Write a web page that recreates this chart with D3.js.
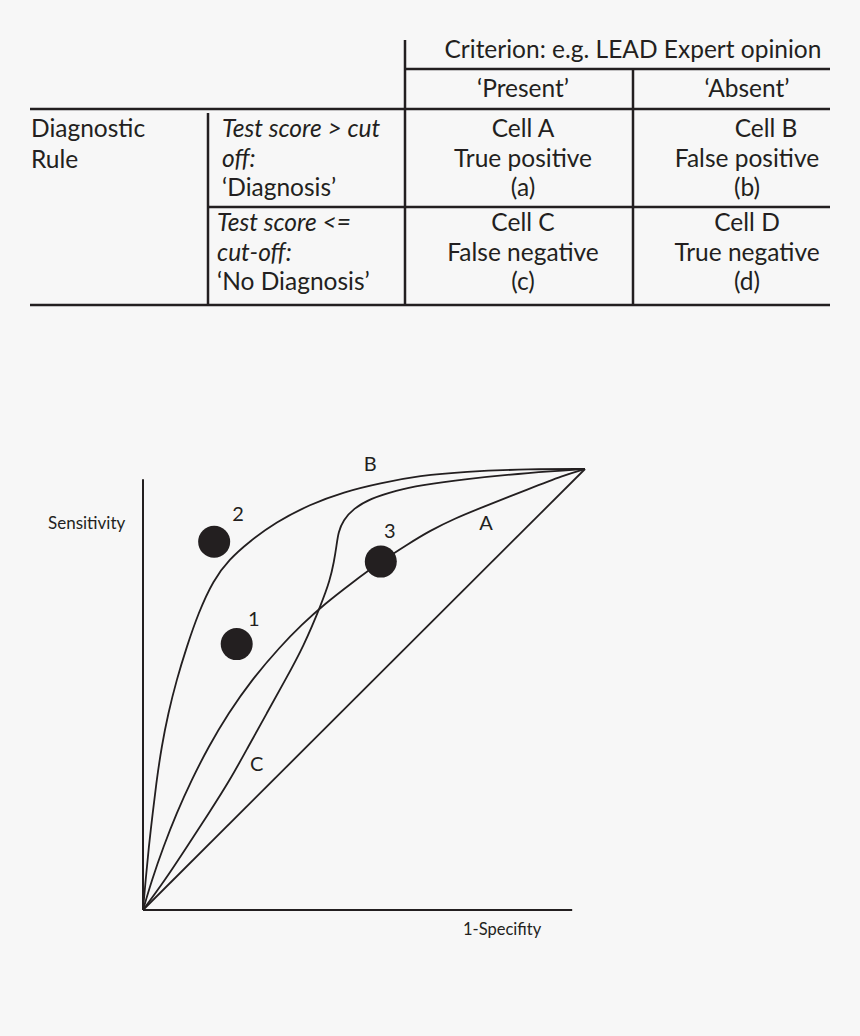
<!DOCTYPE html>
<html>
<head>
<meta charset="utf-8">
<script src="https://cdn.jsdelivr.net/npm/d3@7"></script>
<style>
  body { margin: 0; background: #f7f7f7; }
  svg { display: block; font-family: Lato, "Open Sans", sans-serif; }
</style>
</head>
<body>
<script>
// --- table content ---
const criterionTitle = "Criterion: e.g. LEAD Expert opinion";
const criterionCols = ["‘Present’", "‘Absent’"];
const ruleLabel = ["Diagnostic", "Rule"];
const ruleRows = [
  ["Test score > cut", "off:", "‘Diagnosis’"],
  ["Test score <=", "cut-off:", "‘No Diagnosis’"]
];
const cells = [
  [["Cell A", "True positive", "(a)"], ["Cell B", "False positive", "(b)"]],
  [["Cell C", "False negative", "(c)"], ["Cell D", "True negative", "(d)"]]
];

// --- ROC curves (x = 1-specificity, y = sensitivity) ---
const curveA = [[0,0],[0.020,0.068],[0.046,0.143],[0.076,0.220],[0.110,0.295],[0.148,0.370],
  [0.193,0.446],[0.246,0.522],[0.310,0.597],[0.360,0.648],[0.410,0.693],[0.470,0.740],
  [0.538,0.790],[0.600,0.830],[0.649,0.860],[0.706,0.888],[0.762,0.911],[0.876,0.956],
  [0.950,0.985],[1,1]];
const curveB = [[0,0],[0.006,0.068],[0.013,0.143],[0.022,0.220],[0.031,0.295],[0.042,0.370],
  [0.057,0.446],[0.076,0.522],[0.099,0.597],[0.125,0.673],[0.159,0.748],[0.195,0.795],
  [0.240,0.835],[0.300,0.879],[0.378,0.920],[0.454,0.948],[0.536,0.968],[0.627,0.985],
  [0.725,0.994],[0.876,1.0],[1,1]];
const curveC = [[0,0],[0.050,0.068],[0.099,0.143],[0.148,0.218],[0.197,0.295],[0.238,0.370],
  [0.280,0.446],[0.322,0.522],[0.363,0.597],[0.404,0.695],[0.423,0.748],[0.432,0.789],
  [0.438,0.827],[0.442,0.857],[0.453,0.884],[0.476,0.910],[0.514,0.933],[0.574,0.952],
  [0.627,0.963],[0.725,0.977],[0.876,0.992],[1,1]];
const chance = [[0,0],[1,1]];
const curveLabels = [
  {name: "A", x: 0.776, y: 0.862},
  {name: "B", x: 0.514, y: 0.995},
  {name: "C", x: 0.257, y: 0.316}
];
const points = [
  {name: "1", x: 0.212, y: 0.603},
  {name: "2", x: 0.161, y: 0.835},
  {name: "3", x: 0.538, y: 0.790}
];
const xTitle = "1-Specifity";
const yTitle = "Sensitivity";

const width = 860, height = 1036;
const ink = "#231f20";

const svg = d3.select("body").append("svg")
  .attr("width", width)
  .attr("height", height);

svg.append("rect").attr("width", width).attr("height", height).attr("fill", "#f7f7f7");

// ---------- table ----------
const colX = [30, 208, 405, 633, 830];
const rowY = [40, 69, 109, 207, 305];
const table = svg.append("g").attr("fill", ink).style("font-size", "24.5px");

const rules = [
  [colX[2], rowY[0], colX[2], rowY[4]],
  [colX[2], rowY[1], colX[4], rowY[1]],
  [colX[0], rowY[2], colX[4], rowY[2]],
  [colX[3], rowY[1], colX[3], rowY[4]],
  [colX[1], rowY[2] + 4, colX[1], rowY[4]],
  [colX[1], rowY[3], colX[4], rowY[3]],
  [colX[0], rowY[4], colX[4], rowY[4]]
];
table.selectAll("line").data(rules).join("line")
  .attr("x1", d => d[0]).attr("y1", d => d[1])
  .attr("x2", d => d[2]).attr("y2", d => d[3])
  .attr("stroke", ink).attr("stroke-width", 2.5);

table.append("text").attr("x", 633).attr("y", 58)
  .attr("text-anchor", "middle").text(criterionTitle);

const colCenters = [523, 747];
table.selectAll(".colhead").data(criterionCols).join("text")
  .attr("class", "colhead")
  .attr("x", (d, i) => colCenters[i]).attr("y", 97)
  .attr("text-anchor", "middle").text(d => d);

table.selectAll(".rule").data(ruleLabel).join("text")
  .attr("class", "rule")
  .attr("x", 31).attr("y", (d, i) => 137 + i * 31).text(d => d);

const rowBase = [137, 231];
const lineGap = 29.5;
ruleRows.forEach((lines, r) => {
  table.selectAll(".rr" + r).data(lines).join("text")
    .attr("class", "rr" + r)
    .attr("x", r === 0 ? 222 : 217)
    .attr("y", (d, i) => rowBase[r] + i * lineGap)
    .style("font-style", (d, i) => i < 2 ? "italic" : "normal")
    .text(d => d);
});

cells.forEach((row, r) => {
  row.forEach((lines, c) => {
    table.selectAll(`.c${r}${c}`).data(lines).join("text")
      .attr("class", `c${r}${c}`)
      .attr("x", (d, i) => colCenters[c] + (r === 0 && c === 1 && i === 0 ? 19 : 0))
      .attr("y", (d, i) => rowBase[r] + i * lineGap)
      .attr("text-anchor", "middle")
      .text(d => d);
  });
});

// ---------- ROC chart ----------
const x = d3.scaleLinear().domain([0, 1]).range([143, 585]);
const y = d3.scaleLinear().domain([0, 1]).range([910, 469]);

const chart = svg.append("g");

chart.append("line")
  .attr("x1", x(0)).attr("y1", y(0)).attr("x2", x(0)).attr("y2", y(0.977))
  .attr("stroke", ink).attr("stroke-width", 2);
chart.append("line")
  .attr("x1", x(0)).attr("y1", y(0)).attr("x2", x(0.971)).attr("y2", y(0))
  .attr("stroke", ink).attr("stroke-width", 2);

const line = d3.line()
  .x(d => x(d[0]))
  .y(d => y(d[1]))
  .curve(d3.curveBasis);

chart.selectAll(".roc").data([chance, curveA, curveB, curveC]).join("path")
  .attr("class", "roc")
  .attr("d", line)
  .attr("fill", "none")
  .attr("stroke", ink)
  .attr("stroke-width", 1.8);

chart.selectAll(".dot").data(points).join("circle")
  .attr("class", "dot")
  .attr("cx", d => x(d.x)).attr("cy", d => y(d.y))
  .attr("r", 16).attr("fill", ink);

const labelOffset = {"1": [17, -18], "2": [24, -21], "3": [9, -24]};
chart.selectAll(".ptlabel").data(points).join("text")
  .attr("class", "ptlabel")
  .attr("x", d => x(d.x) + labelOffset[d.name][0])
  .attr("y", d => y(d.y) + labelOffset[d.name][1])
  .attr("text-anchor", "middle")
  .attr("fill", ink).style("font-size", "20px")
  .text(d => d.name);

chart.selectAll(".clabel").data(curveLabels).join("text")
  .attr("class", "clabel")
  .attr("x", d => x(d.x)).attr("y", d => y(d.y))
  .attr("text-anchor", "middle")
  .attr("fill", ink).style("font-size", "20px")
  .text(d => d.name);

chart.append("text").attr("x", 48).attr("y", 529)
  .attr("fill", ink).style("font-size", "17px").text(yTitle);
chart.append("text").attr("x", 463).attr("y", 935)
  .attr("fill", ink).style("font-size", "16.5px").text(xTitle);
</script>
</body>
</html>
